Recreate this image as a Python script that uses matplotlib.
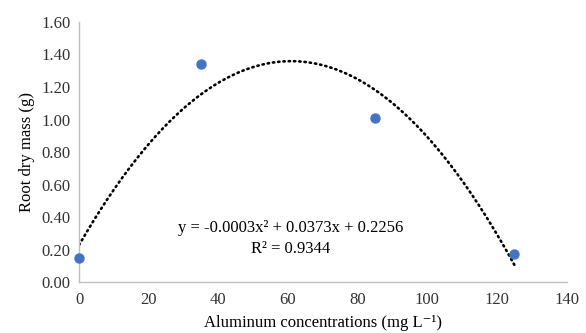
import numpy as np
import matplotlib
matplotlib.use("Agg")
import matplotlib.pyplot as plt

plt.rcParams['font.family'] = ['Liberation Serif', 'DejaVu Serif']

conc = [0, 35, 85, 125]
root_mass = [0.15, 1.34, 1.01, 0.17]
x_ticks = [0, 20, 40, 60, 80, 100, 120, 140]
y_ticks = [0.0, 0.2, 0.4, 0.6, 0.8, 1.0, 1.2, 1.4, 1.6]
eq_text = "y = -0.0003x² + 0.0373x + 0.2256"
r2_text = "R² = 0.9344"

fig = plt.figure(figsize=(5.86, 3.33), dpi=100)
ax = fig.add_axes([0.135, 0.153, 0.832, 0.781])

coef = np.polyfit(conc, root_mass, 2)
xs = np.linspace(min(conc), max(conc), 300)
ax.plot(xs, np.polyval(coef, xs), color='black', linewidth=1.9,
        linestyle=(0, (0.5, 1.5)), dash_capstyle='round', zorder=2)
ax.scatter(conc, root_mass, s=42, color='#4472C4', zorder=3, clip_on=False)

ax.set_xlim(0, 140)
ax.set_ylim(0, 1.6)
ax.set_xticks(x_ticks)
ax.set_yticks(y_ticks)
ax.set_xticklabels([str(v) for v in x_ticks])
ax.set_yticklabels([f"{v:.2f}" for v in y_ticks])
ax.tick_params(length=0, labelsize=12, colors='#333333', pad=7)
ax.tick_params(axis='y', pad=6)
for s in ['top', 'right']:
    ax.spines[s].set_visible(False)
for s in ['left', 'bottom']:
    ax.spines[s].set_color('#BFBFBF')
    ax.spines[s].set_linewidth(1)

ax.set_xlabel("Aluminum concentrations (mg L⁻¹)", fontsize=12, labelpad=5.5)
ax.set_ylabel("Root dry mass (g)", fontsize=12, labelpad=5)

ax.text(60.8, 0.332, eq_text, fontsize=12, ha='center', va='center')
ax.text(60.8, 0.203, r2_text, fontsize=12, ha='center', va='center')

fig.savefig("out.png", dpi=100)
